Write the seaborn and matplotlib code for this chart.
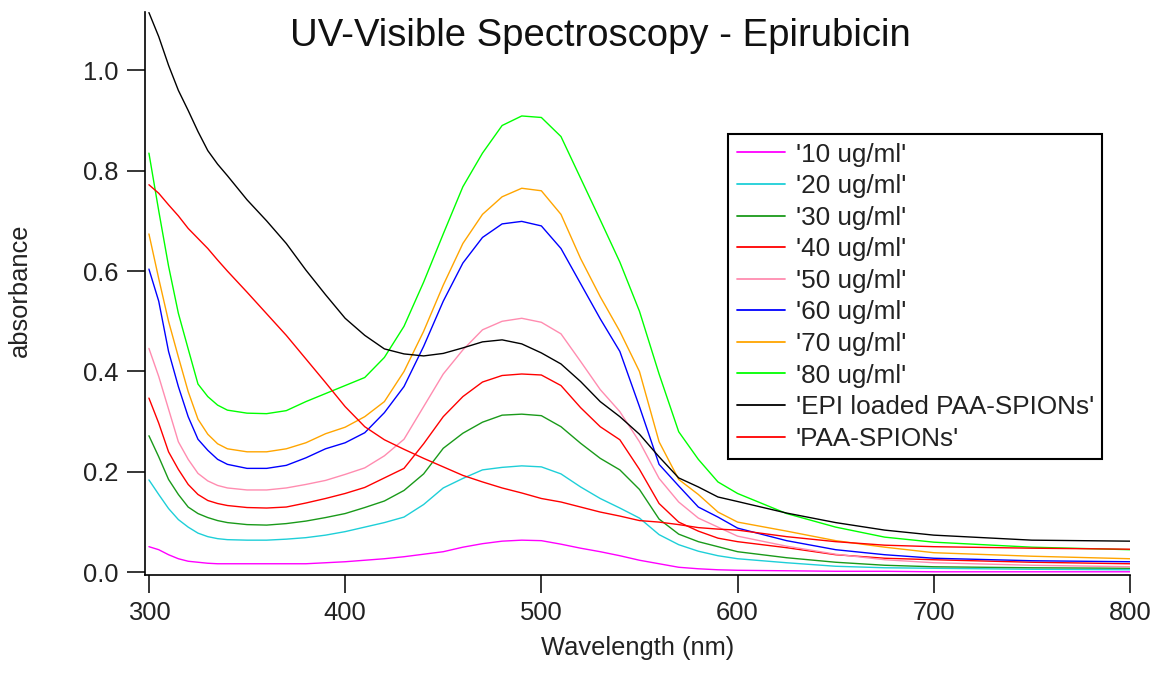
import numpy as np
import pandas as pd
import matplotlib
matplotlib.use("Agg")
import matplotlib.pyplot as plt
import seaborn as sns
from matplotlib.lines import Line2D

wavelength = [300, 305, 310, 315, 320, 325, 330, 335, 340, 350, 360, 370, 380, 390, 400, 410, 420,
              430, 440, 450, 460, 470, 480, 490, 500, 510, 520, 530, 540, 550, 560, 570,
              580, 590, 600, 625, 650, 675, 700, 750, 800]

c10 = [0.051, 0.045, 0.035, 0.027, 0.022, 0.020, 0.018, 0.017, 0.017, 0.017, 0.017, 0.017, 0.017, 0.019, 0.021, 0.024, 0.027,
       0.031, 0.036, 0.041, 0.050, 0.057, 0.062, 0.064, 0.063, 0.056, 0.048, 0.041, 0.033, 0.024, 0.017, 0.010,
       0.007, 0.005, 0.004, 0.003, 0.002, 0.002, 0.001, 0.001, 0.001]
c20 = [0.184, 0.155, 0.127, 0.105, 0.090, 0.078, 0.071, 0.067, 0.065, 0.064, 0.064, 0.066, 0.069, 0.074, 0.081, 0.090, 0.099,
       0.110, 0.135, 0.168, 0.187, 0.204, 0.209, 0.212, 0.210, 0.196, 0.170, 0.147, 0.128, 0.108, 0.075, 0.055,
       0.042, 0.033, 0.027, 0.019, 0.012, 0.009, 0.008, 0.006, 0.005]
c30 = [0.272, 0.230, 0.185, 0.155, 0.130, 0.117, 0.109, 0.103, 0.099, 0.095, 0.094, 0.097, 0.102, 0.109, 0.117, 0.129, 0.142,
       0.163, 0.196, 0.247, 0.277, 0.299, 0.313, 0.315, 0.312, 0.290, 0.257, 0.227, 0.204, 0.165, 0.106, 0.076,
       0.061, 0.051, 0.041, 0.029, 0.020, 0.014, 0.011, 0.009, 0.008]
c40 = [0.347, 0.297, 0.240, 0.205, 0.175, 0.155, 0.143, 0.137, 0.133, 0.129, 0.128, 0.130, 0.138, 0.147, 0.157, 0.169, 0.188,
       0.207, 0.256, 0.310, 0.350, 0.379, 0.392, 0.395, 0.393, 0.372, 0.328, 0.290, 0.264, 0.205, 0.137, 0.100,
       0.082, 0.068, 0.061, 0.049, 0.035, 0.028, 0.025, 0.020, 0.017]
c50 = [0.446, 0.390, 0.325, 0.260, 0.225, 0.197, 0.182, 0.173, 0.168, 0.164, 0.164, 0.168, 0.175, 0.183, 0.195, 0.208, 0.232,
       0.265, 0.330, 0.395, 0.443, 0.483, 0.500, 0.506, 0.498, 0.475, 0.420, 0.364, 0.320, 0.260, 0.187, 0.140,
       0.108, 0.090, 0.072, 0.052, 0.036, 0.025, 0.019, 0.014, 0.011]
c60 = [0.604, 0.540, 0.440, 0.370, 0.310, 0.265, 0.243, 0.225, 0.215, 0.207, 0.207, 0.213, 0.228, 0.246, 0.258, 0.278, 0.318,
       0.370, 0.450, 0.540, 0.616, 0.667, 0.694, 0.699, 0.690, 0.645, 0.575, 0.505, 0.440, 0.330, 0.215, 0.172,
       0.130, 0.110, 0.088, 0.063, 0.045, 0.035, 0.028, 0.023, 0.021]
c70 = [0.674, 0.585, 0.500, 0.429, 0.360, 0.305, 0.275, 0.256, 0.246, 0.240, 0.240, 0.246, 0.258, 0.276, 0.289, 0.310, 0.340,
       0.400, 0.480, 0.572, 0.655, 0.713, 0.748, 0.765, 0.760, 0.713, 0.625, 0.549, 0.480, 0.400, 0.260, 0.185,
       0.155, 0.120, 0.100, 0.082, 0.063, 0.050, 0.039, 0.032, 0.027]
c80 = [0.835, 0.720, 0.610, 0.516, 0.445, 0.375, 0.350, 0.333, 0.323, 0.317, 0.316, 0.322, 0.340, 0.356, 0.372, 0.388, 0.428,
       0.490, 0.578, 0.674, 0.768, 0.835, 0.890, 0.909, 0.906, 0.868, 0.785, 0.702, 0.618, 0.520, 0.395, 0.280,
       0.225, 0.180, 0.157, 0.117, 0.090, 0.070, 0.060, 0.050, 0.045]
epi_paa = [1.115, 1.067, 1.010, 0.960, 0.920, 0.878, 0.840, 0.813, 0.790, 0.742, 0.700, 0.655, 0.602, 0.553, 0.506, 0.472, 0.445,
           0.435, 0.431, 0.436, 0.447, 0.459, 0.463, 0.455, 0.437, 0.415, 0.380, 0.340, 0.310, 0.275, 0.230, 0.188,
           0.170, 0.150, 0.141, 0.118, 0.099, 0.084, 0.074, 0.064, 0.062]
paa = [0.772, 0.755, 0.732, 0.710, 0.685, 0.665, 0.645, 0.622, 0.600, 0.558, 0.515, 0.472, 0.425, 0.378, 0.330, 0.290, 0.264,
       0.245, 0.227, 0.210, 0.193, 0.180, 0.168, 0.158, 0.147, 0.140, 0.130, 0.120, 0.112, 0.103, 0.100, 0.095,
       0.089, 0.086, 0.084, 0.071, 0.061, 0.054, 0.051, 0.048, 0.046]

labels = ["'10 ug/ml'", "'20 ug/ml'", "'30 ug/ml'", "'40 ug/ml'", "'50 ug/ml'",
          "'60 ug/ml'", "'70 ug/ml'", "'80 ug/ml'", "'EPI loaded PAA-SPIONs'", "'PAA-SPIONs'"]
series = [c10, c20, c30, c40, c50, c60, c70, c80, epi_paa, paa]
colors = ["#FF00FF", "#1ECFD8", "#1A9A1A", "#FF0000", "#FF8CB0",
          "#0000FF", "#FFA500", "#00FF00", "#000000", "#FF0000"]

df = pd.concat([pd.DataFrame({"wl": wavelength, "abs": s, "series": lab})
                for lab, s in zip(labels, series)], ignore_index=True)

sns.set_style("ticks")
plt.rcParams["font.family"] = ["Liberation Sans", "DejaVu Sans"]

fig = plt.figure(figsize=(11.57, 6.77), dpi=100)
ax = fig.add_axes([145 / 1157, 1 - 575 / 677, (1130 - 145) / 1157, (575 - 11.7) / 677])

sns.lineplot(data=df, x="wl", y="abs", hue="series", hue_order=labels,
             palette=dict(zip(labels, colors)), estimator=None, sort=False,
             linewidth=1.0, ax=ax, legend=False)

ax.set_xlim(298, 800)
ax.set_ylim(-0.0054, 1.1167)
ax.set_xticks([300, 400, 500, 600, 700, 800])
ax.set_yticks([0.0, 0.2, 0.4, 0.6, 0.8, 1.0])
ax.set_yticklabels(["0.0", "0.2", "0.4", "0.6", "0.8", "1.0"])
for side in ["top", "right"]:
    ax.spines[side].set_visible(False)
for side in ["left", "bottom"]:
    ax.spines[side].set_color("black")
    ax.spines[side].set_linewidth(1.2)
ax.tick_params(axis="both", direction="out", length=13, width=1.1, colors="black",
               labelsize=18.4, pad=6, labelcolor="#222222")

ax.set_xlabel("Wavelength (nm)", fontsize=18.4, color="#222222", labelpad=8)
ax.set_ylabel("")
fig.text(20 / 1157, 1 - 290 / 677, "absorbance", rotation=90, fontsize=18.4,
         ha="center", va="center", color="#222222")
fig.text(600 / 1157, 1 - 36 / 677, "UV-Visible Spectroscopy - Epirubicin", fontsize=27.5,
         ha="center", va="center", color="#111111")

handles = [Line2D([0], [0], color=c, lw=1.3) for c in colors]
leg = fig.legend(handles, labels, loc="upper left", bbox_to_anchor=(728 / 1157, 1 - 134 / 677),
                 bbox_transform=fig.transFigure, fontsize=18.8, frameon=True, fancybox=False,
                 framealpha=1, edgecolor="black", borderaxespad=0, borderpad=0.33,
                 labelspacing=0.29, handlelength=1.84, handletextpad=0.42)
leg.get_frame().set_linewidth(1.5)
for t in leg.get_texts():
    t.set_color("#222222")

fig.savefig("out.png", dpi=100)
